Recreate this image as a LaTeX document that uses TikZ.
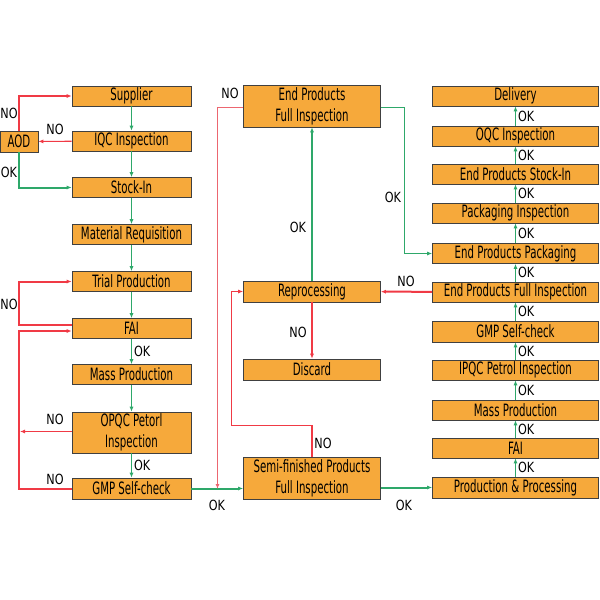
\documentclass[tikz,border=0pt]{standalone}
\usepackage{fontspec}
\setmainfont{DejaVu Sans}[FakeStretch=0.6]
\newfontfamily\lblfont{DejaVu Sans}[FakeStretch=0.8]
\usepackage{tikz}
\usetikzlibrary{arrows.meta, positioning}
\definecolor{boxorange}{HTML}{F6A93B}
\definecolor{okgreen}{HTML}{2EA86A}
\definecolor{nored}{HTML}{F03A45}
\definecolor{nopink}{HTML}{EC6670}

\begin{document}
\begin{tikzpicture}[
        x=1pt, y=-1pt,
        >={Latex[width=4pt,length=5pt]},
            base/.style = {rectangle, draw=black!75, line width=0.6pt,
                        fill=boxorange, inner sep=0pt, text centered,
                        font=\fontsize{17}{21}\selectfont, align=center},
            leftbox/.style = {base, minimum width=119pt, minimum height=20pt},
            midbox/.style = {base, minimum width=137pt, minimum height=21pt},
            rightbox/.style = {base, minimum width=166pt, minimum height=20pt},
            okline/.style = {draw=okgreen, color=okgreen, line width=1.1pt},
            okthick/.style = {draw=okgreen, color=okgreen, line width=2pt},
            noline/.style = {draw=nored, color=nored, line width=1.1pt},
            nothick/.style = {draw=nored, color=nored, line width=2pt},
            lbl/.style = {text=black, font=\lblfont\fontsize{14}{14}\selectfont, inner sep=0pt}]
    \useasboundingbox (0,0) rectangle (600,600);
    % left column
    \node (sup) [leftbox] at (131.5,96) {Supplier};
    \node (iqc) [leftbox] at (131.5,141) {IQC Inspection};
    \node (aod) [base, minimum width=38pt, minimum height=21pt] at (19,141.5) {AOD};
    \node (stk) [leftbox] at (131.5,187.5) {Stock-In};
    \node (mat) [leftbox] at (131.5,234.5) {Material Requisition};
    \node (trl) [leftbox] at (131.5,281.5) {Trial Production};
    \node (fai) [leftbox] at (131.5,328.5) {FAI};
    \node (mas) [leftbox] at (131.5,374.5) {Mass Production};
    \node (opq) [leftbox, minimum height=41pt] at (131.5,432.5) {OPQC Petorl\\Inspection};
    \node (gmp) [leftbox, minimum height=21pt] at (131.5,488.5) {GMP Self-check};
    % middle column
    \node (endfull) [midbox, minimum height=42pt] at (312,106) {End Products\\Full Inspection};
    \node (reproc) [midbox] at (312,291.5) {Reprocessing};
    \node (discard) [midbox] at (312,369.5) {Discard};
    \node (semi) [midbox, minimum height=42pt] at (312,478) {Semi-finished Products\\Full Inspection};
    % right column
    \node (prp) [rightbox, minimum height=21pt] at (515.5,487.5) {Production \& Processing};
    \node (frf) [rightbox] at (515.5,448) {FAI};
    \node (mpr) [rightbox] at (515.5,410) {Mass Production};
    \node (ipq) [rightbox] at (515.5,370) {IPQC Petrol Inspection};
    \node (gmr) [rightbox, minimum height=21pt] at (515.5,331.5) {GMP Self-check};
    \node (efr) [rightbox] at (515.5,292) {End Products Full Inspection};
    \node (epp) [rightbox] at (515.5,253.5) {End Products Packaging};
    \node (pki) [rightbox] at (515.5,213) {Packaging Inspection};
    \node (eps) [rightbox] at (515.5,174) {End Products Stock-In};
    \node (oqc) [rightbox] at (515.5,136) {OQC Inspection};
    \node (del) [rightbox] at (515.5,96) {Delivery};

    \coordinate (c1) at (19,325);
    \coordinate (c2) at (19,331);
    \coordinate (c3) at (20,431.5);
    \coordinate (c4) at (217.5,489);
    \coordinate (c5) at (231.5,425.5);
    \coordinate (c6) at (404.5,107.5);
    \coordinate (c7) at (217.5,107.5);

    \draw[->, okline] (sup) -- (iqc);
    \draw[->, okline] (iqc) -- (stk);
    \draw[->, okline] (stk) -- (mat);
    \draw[->, okline] (mat) -- (trl);
    \draw[->, okline] (trl) -- (fai);
    \draw[->, okline] (fai) -- node[lbl, right=2pt] {OK} (mas);
    \draw[->, okline] (mas) -- (opq);
    \draw[->, okline] (opq) -- node[lbl, right=2pt] {OK} (gmp);

    \draw[->, noline] (iqc) -- (aod);
    \draw[->, nothick] (aod) |- (sup);
    \draw[->, okthick] (aod) |- (stk);
    \draw[->, nothick] (fai.west |- c1) -- (c1) |- (trl);
    \draw[->, nothick] (gmp.west) -| (c2) -- (fai.west |- c2);
    \draw[->, noline] (opq.west |- c3) -- (c3);
    \node[lbl] at (55,129) {NO};
    \node[lbl] at (9,113) {NO};
    \node[lbl] at (9,172) {OK};
    \node[lbl] at (9,304) {NO};
    \node[lbl] at (55,419) {NO};
    \node[lbl] at (55,479) {NO};

    \draw[->, okthick] (gmp.east) -- (semi.west |- gmp.east);
    \draw[->, draw=nopink, color=nopink, line width=1.1pt] (endfull.west |- c7) -- (c7) -- (c4);
    \draw[->, noline] (semi) |- (c5) |- (reproc);
    \draw[->, okthick] (reproc) -- (endfull);
    \draw[->, nothick] (reproc) -- (discard);
    \draw[->, okthick] (semi.east |- prp) -- (prp);
    \draw[->, okline] (endfull.east |- c6) -- (c6) |- (epp);
    \draw[->, nothick] (efr) -- (reproc);
    \node[lbl] at (217,505) {OK};
    \node[lbl] at (230,93) {NO};
    \node[lbl] at (323,443) {NO};
    \node[lbl] at (298,227) {OK};
    \node[lbl] at (298,332) {NO};
    \node[lbl] at (404,505) {OK};
    \node[lbl] at (393,197) {OK};
    \node[lbl] at (406,281) {NO};

    \draw[->, okline] (prp) -- node[lbl, right=2pt] {OK} (frf);
    \draw[->, okline] (frf) -- node[lbl, right=2pt] {OK} (mpr);
    \draw[->, okline] (mpr) -- node[lbl, right=2pt] {OK} (ipq);
    \draw[->, okline] (ipq) -- node[lbl, right=2pt] {OK} (gmr);
    \draw[->, okline] (gmr) -- node[lbl, right=2pt] {OK} (efr);
    \draw[->, okline] (efr) -- node[lbl, right=2pt] {OK} (epp);
    \draw[->, okline] (epp) -- node[lbl, right=2pt] {OK} (pki);
    \draw[->, okline] (pki) -- node[lbl, right=2pt] {OK} (eps);
    \draw[->, okline] (eps) -- node[lbl, right=2pt] {OK} (oqc);
    \draw[->, okline] (oqc) -- node[lbl, right=2pt] {OK} (del);
\end{tikzpicture}
\end{document}
